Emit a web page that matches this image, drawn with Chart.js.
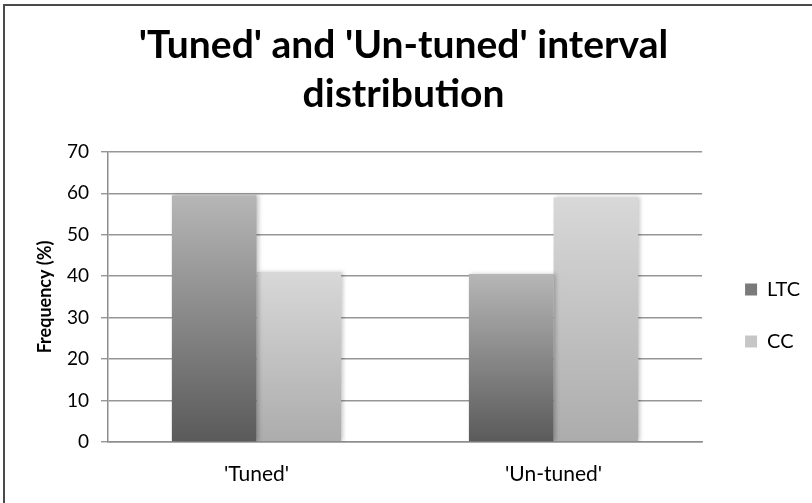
<!DOCTYPE html>
<html>
<head>
<meta charset="utf-8">
<script src="https://cdn.jsdelivr.net/npm/chart.js@4.4.0/dist/chart.umd.min.js"></script>
<style>
  html, body { margin: 0; padding: 0; background: #fff; }
  #wrap { position: relative; width: 812px; height: 503px; overflow: hidden; }
  #frame { position: absolute; left: 3px; top: 4px; right: -10px; bottom: -10px;
           border-top: 2px solid #4a4a4a; border-left: 2px solid #4a4a4a; pointer-events: none; }
  canvas { position: absolute; left: 0; top: 0; }
</style>
</head>
<body>
<div id="wrap">
  <canvas id="c" width="812" height="503"></canvas>
  <div id="frame"></div>
</div>
<script>
// Interval groups and the share (%) of each corpus falling into them
const categories = ["'Tuned'", "'Un-tuned'"];
const ltcValues = [59.5, 40.5];
const ccValues = [41, 59];
const yTicks = [0, 10, 20, 30, 40, 50, 60, 70];

const FONT = 'Lato, "Open Sans", sans-serif';

// Vertical shading per bar: darker at the base, lighter at the top
function barGradient(bottomColor, topColor) {
  return (ctx) => {
    const chart = ctx.chart;
    if (!chart.chartArea || ctx.type !== 'data') return topColor;
    const y = chart.scales.y;
    const top = y.getPixelForValue(ctx.parsed.y);
    const base = y.getPixelForValue(0);
    if (!isFinite(top) || !isFinite(base) || top === base) return topColor;
    const g = chart.ctx.createLinearGradient(0, base, 0, top);
    g.addColorStop(0, bottomColor);
    g.addColorStop(1, topColor);
    return g;
  };
}

// Soft drop shadow to the right of the bars
const barShadow = {
  id: 'barShadow',
  beforeDatasetsDraw(chart) {
    const c = chart.ctx;
    c.save();
    c.shadowColor = 'rgba(0,0,0,0.22)';
    c.shadowBlur = 4;
    c.shadowOffsetX = 2;
    c.shadowOffsetY = 0;
  },
  afterDatasetsDraw(chart) {
    chart.ctx.restore();
  }
};

// Nudge the legend block away from the plot and down a little
const LEGEND_DX = 11;
const LEGEND_DY = 64;
const legendNudge = {
  id: 'legendNudge',
  afterLayout(chart) {
    const lg = chart.legend;
    if (!lg) return;
    lg.left += LEGEND_DX; lg.right += LEGEND_DX;
    lg.top += LEGEND_DY; lg.bottom += LEGEND_DY;
  }
};

const swatches = ['#7a7a7a', '#c6c6c6'];

new Chart(document.getElementById('c'), {
  type: 'bar',
  data: {
    labels: categories,
    datasets: [
      { label: 'LTC', data: ltcValues, backgroundColor: barGradient('#5a5a5a', '#b6b6b6'), borderWidth: 0 },
      { label: 'CC', data: ccValues, backgroundColor: barGradient('#acacac', '#d8d8d8'), borderWidth: 0 }
    ]
  },
  plugins: [barShadow, legendNudge],
  options: {
    responsive: false,
    animation: false,
    devicePixelRatio: 1,
    layout: { padding: { left: 8, right: 13, top: 0, bottom: 0 } },
    datasets: {
      bar: { categoryPercentage: 0.57, barPercentage: 1.0 }
    },
    plugins: {
      title: {
        display: true,
        text: ["'Tuned' and 'Un-tuned' interval", 'distribution'],
        color: '#000',
        font: { family: FONT, size: 39, weight: 'bold', lineHeight: 1.28 },
        padding: { top: 20, bottom: 32 }
      },
      legend: {
        display: true,
        position: 'right',
        align: 'center',
        labels: {
          color: '#000',
          font: { family: FONT, size: 20 },
          boxWidth: 12,
          boxHeight: 12,
          padding: 32,
          generateLabels(chart) {
            const items = Chart.defaults.plugins.legend.labels.generateLabels(chart);
            items.forEach((it, i) => { it.fillStyle = swatches[i]; it.strokeStyle = swatches[i]; it.lineWidth = 0; });
            return items;
          }
        }
      },
      tooltip: { enabled: false }
    },
    scales: {
      x: {
        grid: { display: false, drawTicks: false },
        border: { display: true, color: '#8e8e8e', width: 1.5 },
        ticks: { color: '#000', font: { family: FONT, size: 21 }, padding: 20 },
        afterFit(scale) { scale.height = 61; }
      },
      y: {
        min: 0,
        max: 70,
        afterBuildTicks(scale) { scale.ticks = yTicks.map(v => ({ value: v })); },
        grid: { color: '#969696', lineWidth: 1.4, tickLength: 7, drawTicks: true },
        border: { display: true, color: '#8e8e8e', width: 1.5 },
        ticks: { color: '#000', font: { family: FONT, size: 19 }, padding: 12 },
        title: {
          display: true,
          text: 'Frequency (%)',
          color: '#000',
          font: { family: FONT, size: 18, weight: 'bold' },
          padding: { top: 26, bottom: 0 }
        },
        afterFit(scale) { scale.width = 100; }
      }
    }
  }
});
</script>
</body>
</html>
